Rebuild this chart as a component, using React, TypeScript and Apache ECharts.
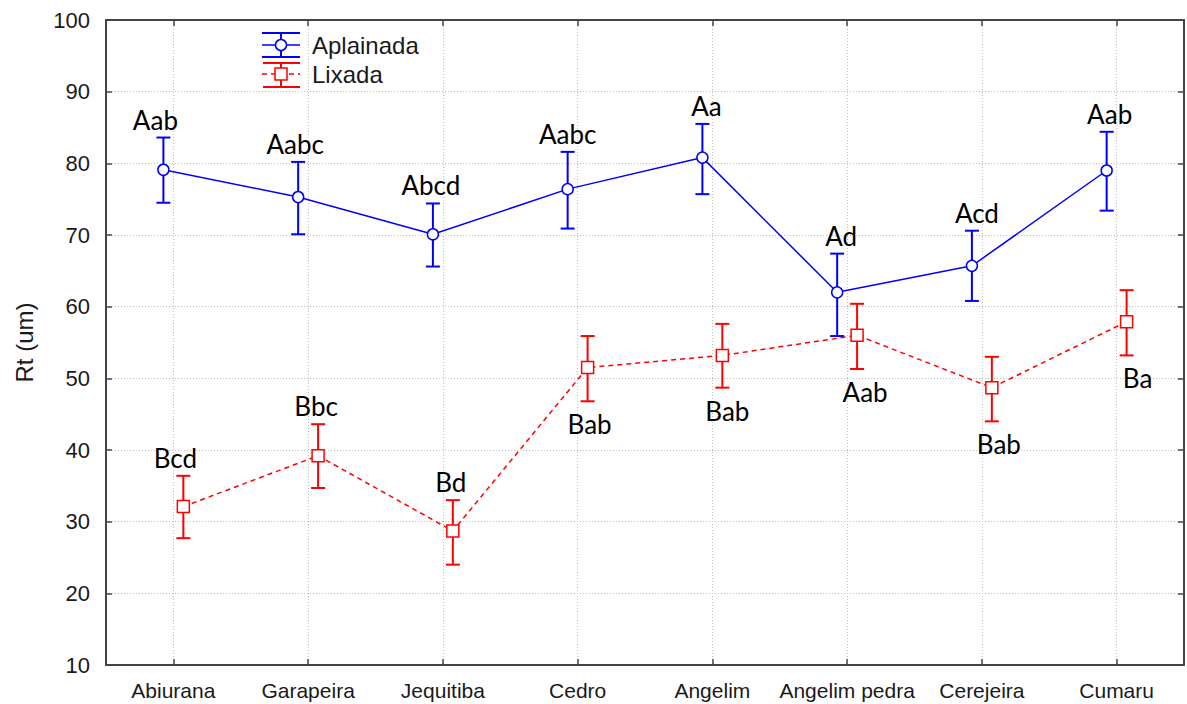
import React, { useEffect, useRef } from "react";
import * as echarts from "echarts";

const categories = ["Abiurana", "Garapeira", "Jequitiba", "Cedro", "Angelim", "Angelim pedra", "Cerejeira", "Cumaru"];

const aplainadaMean = [79.1, 75.3, 70.1, 76.4, 80.8, 62.0, 65.7, 79.0];
const aplainadaLow = [74.5, 70.1, 65.6, 70.9, 75.7, 55.9, 60.8, 73.4];
const aplainadaHigh = [83.6, 80.2, 74.4, 81.6, 85.5, 67.4, 70.6, 84.4];
const aplainadaLabels = ["Aab", "Aabc", "Abcd", "Aabc", "Aa", "Ad", "Acd", "Aab"];

const lixadaMean = [32.1, 39.2, 28.7, 51.5, 53.2, 56.0, 48.7, 57.9];
const lixadaLow = [27.7, 34.7, 24.0, 46.8, 48.7, 51.3, 44.0, 53.2];
const lixadaHigh = [36.4, 43.6, 33.0, 55.9, 57.6, 60.4, 53.0, 62.3];
const lixadaLabels = ["Bcd", "Bbc", "Bd", "Bab", "Bab", "Aab", "Bab", "Ba"];

const yMin = 10;
const yMax = 100;
const yStep = 10;

// styling helpers (label placement, dodge)
const aplainadaBelow = [false, false, false, false, false, false, false, false];
const lixadaBelow = [false, false, false, true, true, true, true, true];
const aplainadaDx = [-8, -3, -2, 0, 4, 4, 5, 3];
const lixadaDx = [-8, -2, -2, 2, 5, 8, 7, 11];
const DODGE = 0.074;

const BLUE = "#0000ff";
const RED = "#ff0000";
const TEXT = "#1a1a1a";
const AXIS = "#444444";
const GRIDLINE = "#bfbfbf";

function errorBarRenderer(color: string, labels: string[], below: boolean[], dxs: number[]) {
  return (params: any, api: any) => {
    const x = api.value(0);
    const lo = api.value(1);
    const hi = api.value(2);
    const top = api.coord([x, hi]);
    const bot = api.coord([x, lo]);
    const cx = top[0];
    const i = params.dataIndex;
    const cap = 7;
    const isBelow = below[i];
    return {
      type: "group",
      children: [
        { type: "line", shape: { x1: cx, y1: top[1], x2: cx, y2: bot[1] }, style: { stroke: color, lineWidth: 2 } },
        { type: "line", shape: { x1: cx - cap, y1: top[1], x2: cx + cap, y2: top[1] }, style: { stroke: color, lineWidth: 2 } },
        { type: "line", shape: { x1: cx - cap, y1: bot[1], x2: cx + cap, y2: bot[1] }, style: { stroke: color, lineWidth: 2 } },
        {
          type: "text",
          x: cx + dxs[i],
          y: isBelow ? bot[1] + 23 : top[1] - 18,
          style: {
            text: labels[i],
            fill: "#000",
            fontSize: 26,
            fontFamily: "Lato",
            align: "center",
            verticalAlign: "middle",
          },
        },
      ],
    };
  };
}

export default function App() {
  const ref = useRef<HTMLDivElement>(null);
  useEffect(() => {
    if (!ref.current) return;
    const chart = echarts.init(ref.current, null, { renderer: "svg" });

    const blueLine = aplainadaMean.map((v, i) => [i + 0.5 - DODGE, v]);
    const redLine = lixadaMean.map((v, i) => [i + 0.5 + DODGE, v]);
    const blueErr = aplainadaMean.map((_, i) => [i + 0.5 - DODGE, aplainadaLow[i], aplainadaHigh[i]]);
    const redErr = lixadaMean.map((_, i) => [i + 0.5 + DODGE, lixadaLow[i], lixadaHigh[i]]);

    const lx1 = 262, lx2 = 300, lcx = 281;
    const legend: any[] = [
      // Aplainada
      { type: "line", shape: { x1: lx1, y1: 33, x2: lx2, y2: 33 }, style: { stroke: BLUE, lineWidth: 2 } },
      { type: "line", shape: { x1: lx1, y1: 57, x2: lx2, y2: 57 }, style: { stroke: BLUE, lineWidth: 2 } },
      { type: "line", shape: { x1: lcx, y1: 33, x2: lcx, y2: 57 }, style: { stroke: BLUE, lineWidth: 2 } },
      { type: "line", shape: { x1: lx1, y1: 45, x2: lx2, y2: 45 }, style: { stroke: BLUE, lineWidth: 1.5 } },
      { type: "circle", shape: { cx: lcx, cy: 45, r: 5.5 }, style: { fill: "#fff", stroke: BLUE, lineWidth: 1.5 } },
      { type: "text", x: 312, y: 45, style: { text: "Aplainada", fill: TEXT, fontSize: 24, fontFamily: "Liberation Sans", align: "left", verticalAlign: "middle" } },
      // Lixada
      { type: "line", shape: { x1: lx1 + 1, y1: 63, x2: lx2, y2: 63 }, style: { stroke: RED, lineWidth: 2 } },
      { type: "line", shape: { x1: lx1 + 1, y1: 87, x2: lx2, y2: 87 }, style: { stroke: RED, lineWidth: 2 } },
      { type: "line", shape: { x1: lcx, y1: 63, x2: lcx, y2: 87 }, style: { stroke: RED, lineWidth: 2 } },
      { type: "line", shape: { x1: lx1, y1: 74, x2: lx2, y2: 74 }, style: { stroke: RED, lineWidth: 1.5, lineDash: [5, 4] } },
      { type: "rect", shape: { x: lcx - 6, y: 68, width: 12, height: 12 }, style: { fill: "#fff", stroke: RED, lineWidth: 1.5 } },
      { type: "text", x: 312, y: 74, style: { text: "Lixada", fill: TEXT, fontSize: 24, fontFamily: "Liberation Sans", align: "left", verticalAlign: "middle" } },
    ];

    chart.setOption({
      animation: false,
      backgroundColor: "#ffffff",
      grid: { left: 106, right: 3, top: 20, bottom: 39, containLabel: false },
      xAxis: [
        {
          type: "category",
          data: categories,
          position: "bottom",
          boundaryGap: true,
          axisLine: { show: true, lineStyle: { color: AXIS, width: 2 } },
          axisTick: { show: true, inside: true, alignWithLabel: true, interval: 0, length: 6, lineStyle: { color: AXIS, width: 1.5 } },
          axisLabel: { interval: 0, fontSize: 21, fontFamily: "Liberation Sans", color: TEXT, margin: 15 },
          splitLine: { show: true, interval: 0, alignWithLabel: true, lineStyle: { color: GRIDLINE, type: [1, 2], width: 1 } },
        },
        {
          type: "category",
          data: categories,
          position: "top",
          boundaryGap: true,
          axisLine: { show: true, lineStyle: { color: AXIS, width: 2 } },
          axisTick: { show: true, inside: true, alignWithLabel: true, interval: 0, length: 6, lineStyle: { color: AXIS, width: 1.5 } },
          axisLabel: { show: false, interval: 0 },
          splitLine: { show: false },
        },
        {
          type: "value",
          position: "bottom",
          show: false,
          min: 0,
          max: categories.length,
          splitLine: { show: false },
        },
      ],
      yAxis: [
        {
          type: "value",
          position: "left",
          min: yMin,
          max: yMax,
          interval: yStep,
          name: "Rt (um)",
          nameLocation: "middle",
          nameRotate: 90,
          nameGap: 70,
          nameTextStyle: { fontSize: 24, fontFamily: "Liberation Sans", color: TEXT },
          axisLine: { show: true, lineStyle: { color: AXIS, width: 2 } },
          axisTick: { show: true, inside: true, length: 6, lineStyle: { color: AXIS, width: 1.5 } },
          axisLabel: { fontSize: 22, fontFamily: "Liberation Sans", color: TEXT, margin: 16 },
          splitLine: { show: true, lineStyle: { color: GRIDLINE, type: [1, 2], width: 1 } },
        },
        {
          type: "value",
          position: "right",
          min: yMin,
          max: yMax,
          interval: yStep,
          axisLine: { show: true, lineStyle: { color: AXIS, width: 2 } },
          axisTick: { show: true, inside: true, length: 6, lineStyle: { color: AXIS, width: 1.5 } },
          axisLabel: { show: false },
          splitLine: { show: false },
        },
      ],
      series: [
        {
          type: "custom",
          name: "Aplainada err",
          xAxisIndex: 2,
          yAxisIndex: 0,
          z: 2,
          encode: { x: 0, y: [1, 2] },
          data: blueErr,
          renderItem: errorBarRenderer(BLUE, aplainadaLabels, aplainadaBelow, aplainadaDx),
        },
        {
          type: "custom",
          name: "Lixada err",
          xAxisIndex: 2,
          yAxisIndex: 0,
          z: 2,
          encode: { x: 0, y: [1, 2] },
          data: redErr,
          renderItem: errorBarRenderer(RED, lixadaLabels, lixadaBelow, lixadaDx),
        },
        {
          type: "line",
          name: "Aplainada",
          xAxisIndex: 2,
          yAxisIndex: 0,
          z: 3,
          data: blueLine,
          symbol: "circle",
          symbolSize: 11,
          showAllSymbol: true,
          itemStyle: { color: "#ffffff", borderColor: BLUE, borderWidth: 1.5 },
          lineStyle: { color: BLUE, width: 1.5 },
        },
        {
          type: "line",
          name: "Lixada",
          xAxisIndex: 2,
          yAxisIndex: 0,
          z: 3,
          data: redLine,
          symbol: "rect",
          symbolSize: 12,
          showAllSymbol: true,
          itemStyle: { color: "#ffffff", borderColor: RED, borderWidth: 1.5 },
          lineStyle: { color: RED, width: 1.5, type: [5, 4] },
        },
      ],
      graphic: legend,
    });
    return () => chart.dispose();
  }, []);

  return (
    <div
      ref={ref}
      style={{ position: "fixed", left: 0, top: 0, width: 1187, height: 704, background: "#fff" }}
    />
  );
}
